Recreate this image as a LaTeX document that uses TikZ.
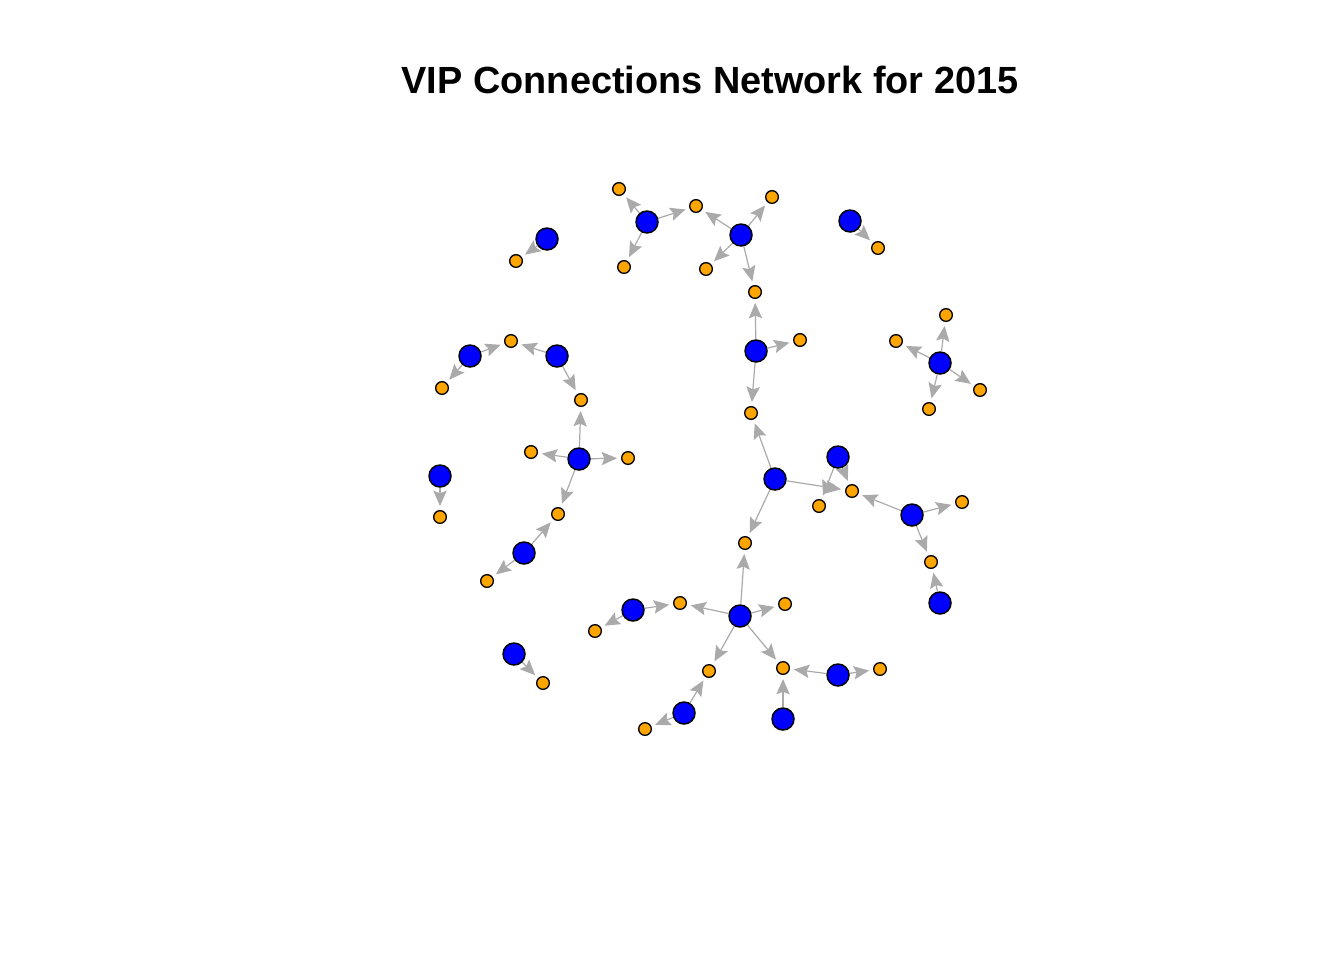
\documentclass[tikz,border=0pt]{standalone}
\usepackage{fontspec}
\setmainfont{Liberation Sans}
\usetikzlibrary{arrows.meta,backgrounds}
\definecolor{vipblue}{HTML}{0000FF}
\definecolor{vorange}{HTML}{FFA500}
\definecolor{edgegray}{HTML}{AAAAAA}
\tikzset{
  vip/.style={circle,draw=black,line width=1.1pt,fill=vipblue,minimum size=16.5pt,inner sep=0pt},
  con/.style={circle,draw=black,line width=1pt,fill=vorange,minimum size=9.5pt,inner sep=0pt},
  link/.style={draw=edgegray,line width=0.9pt,-{Stealth[length=11.5pt,width=10pt,inset=2pt]},shorten >=3pt},
}
\begin{document}
\begin{tikzpicture}[x=0.75pt,y=-0.75pt]
\useasboundingbox (0,0) rectangle (1344,960);
\node[font=\bfseries\fontsize{28.4}{34}\selectfont] (title) at (710,80) {VIP Connections Network for 2015};
% VIP nodes
\node[vip] (b1) at (647,222) {};
\node[vip] (b2) at (741,235) {};
\node[vip] (b3) at (850,221) {};
\node[vip] (b4) at (547,239) {};
\node[vip] (b5) at (470,356) {};
\node[vip] (b6) at (557,356) {};
\node[vip] (b7) at (756,351) {};
\node[vip] (b8) at (940,363) {};
\node[vip] (b9) at (440,476) {};
\node[vip] (b10) at (579,459) {};
\node[vip] (b11) at (775,479) {};
\node[vip] (b12) at (838,457) {};
\node[vip] (b13) at (912,515) {};
\node[vip] (b14) at (524,553) {};
\node[vip] (b15) at (940,603) {};
\node[vip] (b16) at (633,610) {};
\node[vip] (b17) at (740,616) {};
\node[vip] (b18) at (514,654) {};
\node[vip] (b19) at (838,675) {};
\node[vip] (b20) at (684,713) {};
\node[vip] (b21) at (783,719) {};
% connection nodes
\node[con] (o1) at (619,189) {};
\node[con] (o2) at (624,267) {};
\node[con] (o3) at (696,206) {};
\node[con] (o4) at (772,197) {};
\node[con] (o5) at (706,269) {};
\node[con] (o6) at (755,292) {};
\node[con] (o7) at (878,248) {};
\node[con] (o8) at (516,261) {};
\node[con] (o9) at (511,341) {};
\node[con] (o10) at (442,388) {};
\node[con] (o11) at (581,400) {};
\node[con] (o12) at (800,340) {};
\node[con] (o13) at (896,341) {};
\node[con] (o14) at (946,315) {};
\node[con] (o15) at (980,390) {};
\node[con] (o16) at (929,409) {};
\node[con] (o17) at (531,452) {};
\node[con] (o18) at (628,458) {};
\node[con] (o19) at (751,413) {};
\node[con] (o20) at (852,491) {};
\node[con] (o21) at (819,506) {};
\node[con] (o22) at (962,502) {};
\node[con] (o23) at (558,514) {};
\node[con] (o24) at (931,562) {};
\node[con] (o25) at (745,543) {};
\node[con] (o26) at (487,581) {};
\node[con] (o27) at (680,603) {};
\node[con] (o28) at (785,604) {};
\node[con] (o29) at (595,631) {};
\node[con] (o30) at (783,668) {};
\node[con] (o31) at (880,669) {};
\node[con] (o32) at (709,671) {};
\node[con] (o33) at (543,683) {};
\node[con] (o34) at (645,729) {};
\node[con] (o35) at (440,517) {};
\begin{scope}[on background layer]
\foreach \s/\t in {b1/o1,b1/o2,b1/o3,
  b2/o3,b2/o4,b2/o5,b2/o6,
  b3/o7,b4/o8,
  b5/o9,b5/o10,b6/o9,b6/o11,
  b7/o6,b7/o12,b7/o19,
  b8/o13,b8/o14,b8/o15,b8/o16,
  b9/o35,
  b10/o11,b10/o17,b10/o18,b10/o23,
  b11/o19,b11/o20,b11/o25,
  b12/o20,b12/o21,
  b13/o20,b13/o22,b13/o24,
  b14/o23,b14/o26,b15/o24,
  b16/o27,b16/o29,
  b17/o25,b17/o27,b17/o28,b17/o32,b17/o30,
  b18/o33,b19/o30,b19/o31,
  b20/o32,b20/o34,b21/o30}
  \draw[link] (\s) -- (\t);
\end{scope}
\end{tikzpicture}
\end{document}
